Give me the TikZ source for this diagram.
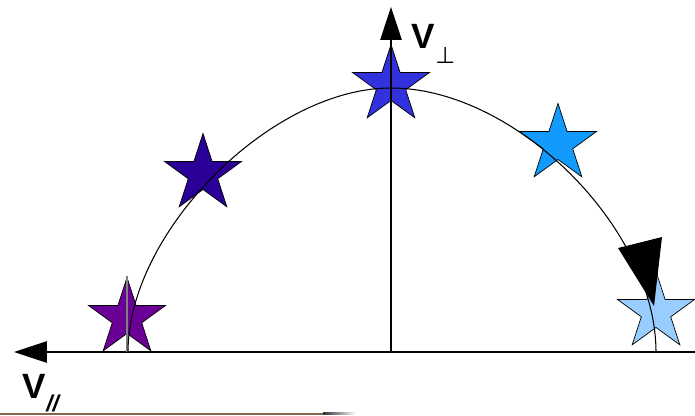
\documentclass[tikz,border=0pt]{standalone}
\usepackage{fontspec}
\setmainfont{Liberation Sans}
\newfontfamily\tackfont{DejaVu Sans}
\usetikzlibrary{arrows.meta,shapes.geometric}

\definecolor{starpurple}{RGB}{106,0,150}
\definecolor{starindigo}{RGB}{42,0,152}
\definecolor{starblue}{RGB}{50,50,220}
\definecolor{starsky}{RGB}{18,155,252}
\definecolor{starpale}{RGB}{153,204,255}
\definecolor{rulebrown}{RGB}{128,104,72}

\begin{document}
\begin{tikzpicture}[
    x=0.02cm, y=-0.02cm,
    starnode/.style={star, star points=5, star point ratio=2.618, draw=black, line width=0.4pt, inner sep=0pt, minimum size=1.62cm},
    axis/.style={line width=0.6pt, -{Triangle[length=0.66cm, width=0.43cm]}},
    lbl/.style={inner sep=0pt, font=\fontsize{20}{24}\selectfont\bfseries},
    sublbl/.style={inner sep=0pt, font=\fontsize{13}{15}\selectfont}
  ]
  \useasboundingbox (0,0) rectangle (695,415);

  % velocity stars along the arc
  \node[starnode, fill=starpurple] (s1) at (127,318) {};
  \node[starnode, fill=starindigo] (s2) at (203,174) {};
  \node[starnode, fill=starblue] (s3) at (391,85) {};
  \node[starnode, fill=starsky] (s4) at (558,144) {};
  \node[starnode, fill=starpale] (s5) at (656,312) {};

  % axes
  \coordinate (o) at (391,352);
  \coordinate (xstart) at (695,352);
  \coordinate (xend) at (14,352);
  \coordinate (ytop) at (391,7);
  \draw[axis] (xstart) -- (xend);
  \draw[axis] (o) -- (ytop);
  \draw[gray, line width=0.6pt] (s1.north) -- (s1.north |- o);

  % arc
  \coordinate (footl) at (128,352);
  \coordinate (apex) at (391,88);
  \coordinate (footr) at (656,352);
  \draw[line width=0.6pt] (footl) .. controls (128,232) and (271,88) .. (apex)
    .. controls (515,88) and (656,228) .. (footr);
  \coordinate (tipa) at (618,248);
  \coordinate (tipb) at (662,237);
  \coordinate (tipc) at (654,306);
  \fill (tipa) -- (tipb) -- (tipc) -- cycle;

  % labels
  \node[lbl, anchor=base west] (vperp) at (411,49) {V};
  \node[sublbl, anchor=base west] (perp) at (435,64) {\tackfont ⊥};
  \node[lbl, anchor=base west] (vpar) at (22,398) {V};
  \node[sublbl, anchor=base west, font=\fontsize{13}{15}\selectfont\bfseries\itshape] (par) at (46,411) {//};

  % bottom rule
  \fill[rulebrown] (0,412.5) rectangle (323,414.5);
  \shade[left color=black!80, right color=white] (323,412.5) rectangle (356,414.5);
\end{tikzpicture}
\end{document}
